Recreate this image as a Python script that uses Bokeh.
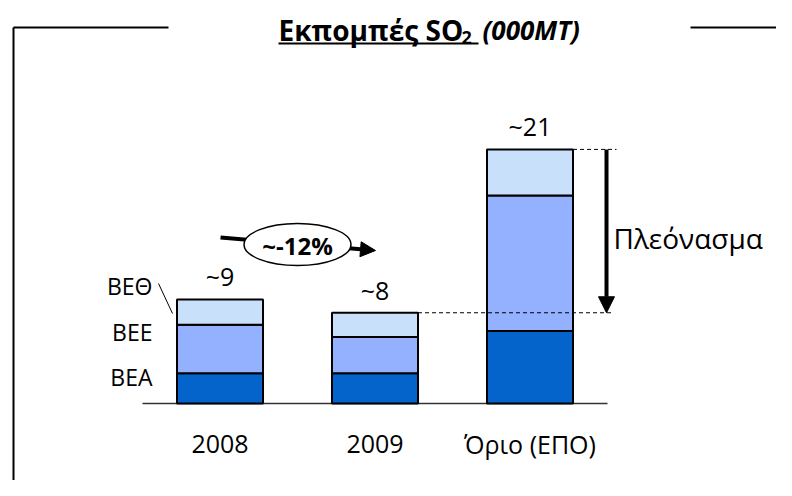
from bokeh.plotting import figure
from bokeh.models import Range1d, Arrow, NormalHead, ColumnDataSource
from bokeh.core.properties import value
from bokeh.embed import file_html
from bokeh.resources import INLINE

# ---- data ----
categories = ["2008", "2009", "Όριο (ΕΠΟ)"]
series = ["ΒΕΑ", "ΒΕΕ", "ΒΕΘ"]
bea = [2.5, 2.5, 6.0]
bee = [4.0, 3.0, 11.2]
beth = [2.1, 2.0, 3.8]
total_labels = ["~9", "~8", "~21"]
change_label = "~-12%"
surplus_label = "Πλεόνασμα"
title_main = "Εκπομπές SO"
title_sub = "2"
title_unit = "(000MT)"

colors = ["#0563CC", "#93B1FF", "#C8E0FA"]
FONT = "Open Sans"

# ---- layout helpers (picture pixel -> data) ----
W, H = 776, 480
X0, DX = 219.5, 155.0
Y0, DY = 403.0, 12.1


def X(px):
    return (px - X0) / DX


def Y(py):
    return (Y0 - py) / DY


p = figure(width=W, height=H,
           x_range=Range1d(X(0), X(W)), y_range=Range1d(Y(H), Y(0)),
           output_backend="svg", toolbar_location=None, min_border=0,
           x_axis_location=None, y_axis_location=None)
p.grid.visible = False
p.outline_line_color = None
p.background_fill_color = "white"
p.border_fill_color = "white"

xs = list(range(len(categories)))
totals = [a + b + c for a, b, c in zip(bea, bee, beth)]
BW = 0.555

# frame lines
p.segment(x0=[X(13), X(690), X(13)], y0=[Y(27), Y(27), Y(27)],
          x1=[X(168), X(W), X(13)], y1=[Y(27), Y(27), Y(H)],
          line_color="black", line_width=2)

# baseline
p.segment(x0=[X(142)], y0=[0], x1=[X(607)], y1=[0], line_color="#333333", line_width=1.5)

# bars
src = ColumnDataSource(dict(x=xs, bea=bea, bee=bee, beth=beth))
p.vbar_stack(["bea", "bee", "beth"], x="x", width=BW, source=src,
             fill_color=colors, line_color="black", line_width=2)

# dashed guide lines
p.segment(x0=[xs[1] + BW / 2, xs[2] + BW / 2], y0=[totals[1], totals[2]],
          x1=[X(612), X(616)], y1=[totals[1], totals[2]],
          line_color="black", line_width=1, line_dash="4 3")

# surplus arrow
p.add_layout(Arrow(x_start=X(606), y_start=totals[2], x_end=X(606), y_end=totals[1],
                   line_width=4, line_color="black",
                   end=NormalHead(size=16, fill_color="black", line_color="black")))

# total labels
p.text(x=xs, y=totals, text=total_labels, y_offset=-6, text_align="center",
       text_baseline="bottom", text_font=value(FONT), text_font_size="25px", text_color="black")

# category labels
p.text(x=xs, y=[0, 0, 0], text=categories, y_offset=40, text_align="center",
       text_baseline="middle", text_font=value(FONT), text_font_size="25px", text_color="black")

# series labels
p.text(x=[X(152)] * 3, y=[Y(376), Y(331), Y(285)], text=series, text_align="right",
       text_baseline="middle", text_font=value(FONT), text_font_size="23px", text_color="black")
p.segment(x0=[X(158)], y0=[Y(283)], x1=[X(172)], y1=[Y(313)], line_color="black", line_width=1)

# change arrow + ellipse
p.add_layout(Arrow(x_start=X(220), y_start=Y(237), x_end=X(375), y_end=Y(250),
                   line_width=4, line_color="black", level="underlay",
                   end=NormalHead(size=15, fill_color="black", line_color="black")))
p.ellipse(x=[X(297)], y=[Y(244)], width=107, height=42, width_units="screen",
          height_units="screen", fill_color="white", line_color="black", line_width=1.5)
p.text(x=[X(297)], y=[Y(245)], text=[change_label], text_align="center",
       text_baseline="middle", text_font=value(FONT), text_font_size="24px",
       text_font_style="bold", text_color="black")

# surplus label
p.text(x=[X(613)], y=[Y(237)], text=[surplus_label], text_align="left",
       text_baseline="middle", text_font=value(FONT), text_font_size="28px", text_color="black")

# title
p.text(x=[X(278)], y=[Y(29)], text=[title_main], text_align="left",
       text_baseline="middle", text_font=value(FONT), text_font_size="28px",
       text_font_style="bold", text_color="black")
p.text(x=[X(461)], y=[Y(37)], text=[title_sub], text_align="left",
       text_baseline="middle", text_font=value(FONT), text_font_size="18px",
       text_font_style="bold", text_color="black")
p.text(x=[X(482)], y=[Y(29)], text=[title_unit], text_align="left",
       text_baseline="middle", text_font=value(FONT), text_font_size="26px",
       text_font_style="bold italic", text_color="black")
p.segment(x0=[X(278)], y0=[Y(43)], x1=[X(478)], y1=[Y(43)], line_color="black", line_width=2)

open("out.html", "w").write(file_html(p, INLINE))
